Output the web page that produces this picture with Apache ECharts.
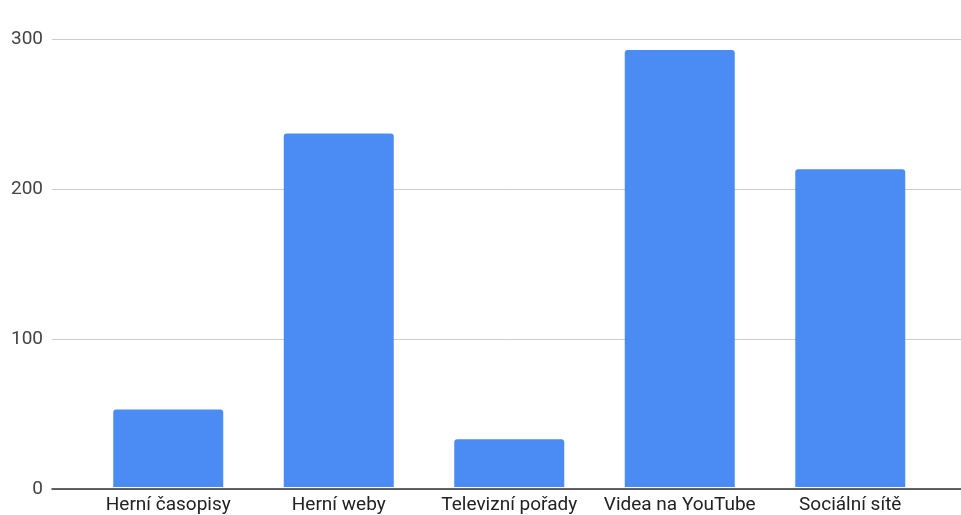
<!DOCTYPE html>
<html>
<head>
<meta charset="utf-8">
<script src="https://cdn.jsdelivr.net/npm/echarts@6/dist/echarts.min.js"></script>
<style>
html,body{margin:0;padding:0;background:#fff;}
#chart{width:961px;height:515px;}
</style>
</head>
<body>
<div id="chart"></div>
<script>
const categories = ["Herní časopisy", "Herní weby", "Televizní pořady", "Videa na YouTube", "Sociální sítě"];
const values = [52, 237, 32, 293, 213];
const yTicks = [0, 100, 200, 300];

const chart = echarts.init(document.getElementById('chart'), null, {renderer: 'canvas'});
const font = 'Roboto, Arial, sans-serif';
const option = {
  animation: false,
  grid: [
    {left: 52, right: 0, top: 39.5, bottom: 26},
    {left: 83, right: 25.5, top: 39.5, bottom: 26}
  ],
  xAxis: [
    {gridIndex: 0, type: 'value', min: 0, max: 1, show: true,
      axisLine: {show: true, onZero: false, lineStyle: {color: '#333', width: 1.5}},
      axisTick: {show: false}, axisLabel: {show: false}, splitLine: {show: false}},
    {gridIndex: 1, type: 'category', data: categories,
      axisLine: {show: false}, axisTick: {show: false},
      axisLabel: {color: '#222', fontFamily: font, fontSize: 19, margin: 9, interval: 0}}
  ],
  yAxis: [
    {gridIndex: 0, type: 'value', min: 0, max: 300, interval: 100,
      axisLine: {show: false}, axisTick: {show: false},
      axisLabel: {color: '#444', fontFamily: font, fontSize: 19, margin: 9,
        formatter: v => yTicks.includes(v) ? String(v) : ''},
      splitLine: {show: true, lineStyle: {color: '#cccccc', width: 1}}},
    {gridIndex: 1, type: 'value', min: 0, max: 300, interval: 100, show: false,
      splitLine: {show: false}}
  ],
  series: [{
    type: 'bar',
    xAxisIndex: 1, yAxisIndex: 1,
    data: values,
    barWidth: 110,
    itemStyle: {color: '#4a8bf4', borderRadius: [3, 3, 0, 0]}
  }]
};
chart.setOption(option);
</script>
</body>
</html>
